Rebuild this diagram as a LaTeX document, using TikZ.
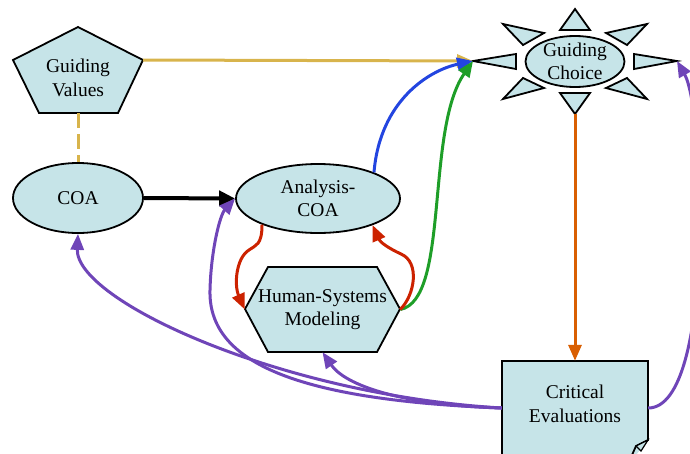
\documentclass[tikz,border=0pt]{standalone}
\usepackage{fontspec}
\setmainfont{Liberation Serif}
\usetikzlibrary{arrows.meta,shapes.geometric}
\definecolor{skyfill}{HTML}{C6E4E8}
\definecolor{goldedge}{HTML}{D8B44C}
\definecolor{blueedge}{HTML}{2345E0}
\definecolor{greenedge}{HTML}{1E9E28}
\definecolor{rededge}{HTML}{CC2200}
\definecolor{orangeedge}{HTML}{D95F02}
\definecolor{purpleedge}{HTML}{6F45B8}

\begin{document}
\begin{tikzpicture}[x=1pt, y=-1pt,
                    blob/.style = {draw, line width=1.8pt, fill=skyfill, line join=miter},
                    txt/.style = {font=\rmfamily\fontsize{19.5}{23.5}\selectfont, align=center, inner sep=0pt},
                    arrow/.style = {line width=3pt, -{Triangle[length=16pt,width=13pt]}}]
                    \useasboundingbox (0,0) rectangle (690,453);
                    \clip (0,0) rectangle (690,453);

                    \draw[blob] (78,27) -- (143,60) -- (118,113) -- (39,113) -- (13,60) -- cycle;
                    \node[txt, minimum width=130pt, minimum height=70pt] (gv) at (78,78) {Guiding\\Values};
                    \coordinate (gvtip) at (143,60);

                    \node[blob, ellipse, txt, minimum width=130pt, minimum height=70pt] (coa) at (78,198) {COA};
                    \node[blob, ellipse, txt, minimum width=164pt, minimum height=69pt] (aco) at (318,198.5) {Analysis-\\COA};

                    \draw[blob] (245,309) -- (268,267) -- (377,267) -- (400,309) -- (377,352) -- (268,352) -- cycle;
                    \node[txt, minimum width=155pt, minimum height=85pt] (hsm) at (322.5,309.5) {Human-Systems\\Modeling};

                    \foreach \a/\b/\c in {{(575,9)}/{(560,30)}/{(590,30)}, {(575,114)}/{(560,93)}/{(590,93)},
                                          {(473,61)}/{(516,54)}/{(516,69)}, {(677,61)}/{(634,54)}/{(634,69)},
                                          {(503,24)}/{(544,33)}/{(523,45)}, {(647,24)}/{(606,33)}/{(627,45)},
                                          {(503,99)}/{(523,78)}/{(544,88)}, {(647,99)}/{(627,78)}/{(606,88)}}
                        \draw[blob] \a -- \b -- \c -- cycle;
                    \draw[blob] (575,61.5) ellipse [x radius=49.5pt, y radius=25.5pt];
                    \node[txt] (gc) at (575,61.5) {Guiding\\Choice};
                    \coordinate (gcleft) at (473,61);
                    \coordinate (gcright) at (677,61);
                    \coordinate (gcbottom) at (575,114);

                    \fill[skyfill] (502,361) -- (648,361) -- (648,440) -- (632,460) -- (502,460) -- cycle;
                    \draw[line width=1.8pt] (502,460) -- (502,361) -- (648,361) -- (648,440) -- (636,446) -- (632,455);
                    \draw[line width=1.2pt, fill=skyfill] (648,440) -- (641,451) -- (636,446) -- cycle;
                    \node[txt, minimum width=146pt, minimum height=86pt] (ce) at (575,404) {Critical\\Evaluations};

                    \draw[arrow, goldedge] (gvtip) -- (gcleft);
                    \draw[goldedge, line width=3pt, dash pattern=on 15pt off 6pt] (gv.south) -- (coa.north);
                    \draw[line width=4pt, -{Triangle[length=16pt,width=15pt]}] (coa.east) -- (aco.west);

                    \draw[arrow, blueedge] (aco.25) .. controls (380,100) and (430,70) .. (gcleft);
                    \draw[arrow, greenedge] (hsm.east) .. controls (450,300) and (425,130) .. (gcleft);
                    \draw[arrow, rededge] (aco.205) .. controls (262,245) and (256,245) .. (249,250) .. controls (236,258) and (234,285) .. (hsm.west);
                    \draw[arrow, rededge] (hsm.east) .. controls (415,295) and (420,262) .. (401,254) .. controls (388,248) and (380,242) .. (aco.-26);
                    \draw[arrow, orangeedge] (gcbottom) -- (ce.north);

                    \draw[arrow, purpleedge] ([yshift=-4pt]ce.west) .. controls (280,395) and (75,300) .. (coa.south);
                    \draw[arrow, purpleedge] ([yshift=-4pt]ce.west) .. controls (290,400) and (208,360) .. (210,290) .. controls (211,250) and (220,215) .. (aco.west);
                    \draw[arrow, purpleedge] ([yshift=-4pt]ce.west) .. controls (400,405) and (345,385) .. (hsm.south);
                    \draw[arrow, purpleedge] ([yshift=-4pt]ce.east) .. controls (715,408) and (705,110) .. (gcright);
                \end{tikzpicture}
\end{document}
